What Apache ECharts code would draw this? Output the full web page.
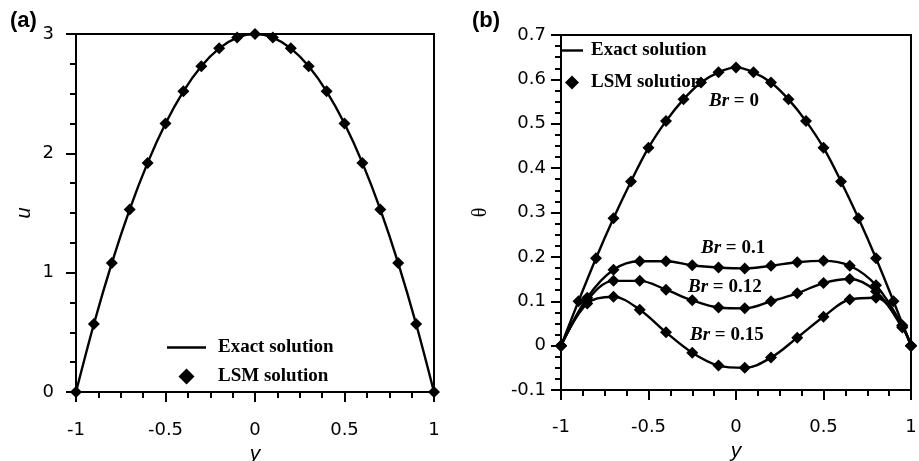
<!DOCTYPE html>
<html>
<head>
<meta charset="utf-8">
<script src="https://cdn.jsdelivr.net/npm/echarts@6/dist/echarts.min.js"></script>
<style>
  html, body { margin: 0; padding: 0; background: #fff; }
  #chart { width: 919px; height: 461px; }
</style>
</head>
<body>
<div id="chart"></div>
<script>
// Panel (a): velocity profile u(y)
const yVel = [-1, -0.9, -0.8, -0.7, -0.6, -0.5, -0.4, -0.3, -0.2, -0.1, 0, 0.1, 0.2, 0.3, 0.4, 0.5, 0.6, 0.7, 0.8, 0.9, 1];
const uVel = [0, 0.57, 1.08, 1.53, 1.92, 2.25, 2.52, 2.73, 2.88, 2.97, 3.0, 2.97, 2.88, 2.73, 2.52, 2.25, 1.92, 1.53, 1.08, 0.57, 0];

// Panel (b): temperature profiles θ(y) for several Brinkman numbers
const yBr0 = [-1, -0.9, -0.8, -0.7, -0.6, -0.5, -0.4, -0.3, -0.2, -0.1, 0, 0.1, 0.2, 0.3, 0.4, 0.5, 0.6, 0.7, 0.8, 0.9, 1];
const thetaBr0 = [0, 0.100, 0.197, 0.287, 0.370, 0.446, 0.506, 0.555, 0.593, 0.616, 0.627, 0.616, 0.593, 0.555, 0.506, 0.446, 0.370, 0.287, 0.197, 0.100, 0];

const yBr = [-1, -0.85, -0.7, -0.55, -0.4, -0.25, -0.1, 0.05, 0.2, 0.35, 0.5, 0.65, 0.8, 0.95, 1];
const thetaBr010 = [0, 0.108, 0.171, 0.190, 0.190, 0.181, 0.176, 0.174, 0.180, 0.188, 0.191, 0.180, 0.136, 0.046, 0];
const thetaBr012 = [0, 0.102, 0.146, 0.146, 0.126, 0.102, 0.086, 0.084, 0.100, 0.118, 0.141, 0.150, 0.122, 0.044, 0];
const thetaBr015 = [0, 0.095, 0.110, 0.081, 0.030, -0.016, -0.045, -0.050, -0.027, 0.018, 0.065, 0.104, 0.108, 0.041, 0];

const brLabels = ['Br = 0', 'Br = 0.1', 'Br = 0.12', 'Br = 0.15'];

const pair = (xs, ys) => xs.map((x, i) => [x, ys[i]]);

const SANS = 'DejaVu Sans';
const SERIF = '"Liberation Serif", "Times New Roman", serif';

function xAxisFor(gridIndex, nameGap, margin) {
  return {
    type: 'value', gridIndex, min: -1, max: 1, interval: 0.5,
    name: 'y', nameLocation: 'middle', nameGap,
    nameTextStyle: { fontFamily: 'Liberation Sans', fontStyle: 'italic', fontSize: 21, color: '#000' },
    axisLine: { show: true, onZero: false, lineStyle: { color: '#000', width: 2 } },
    axisTick: { show: true, inside: false, length: 10, lineStyle: { color: '#000', width: 2 } },
    minorTick: { show: true, splitNumber: 4, length: 6, lineStyle: { color: '#000', width: 2 } },
    axisLabel: { margin, fontFamily: SANS, fontSize: 18, color: '#000' },
    splitLine: { show: false }
  };
}

function yAxisFor(gridIndex, min, max, interval, name, nameStyle, nameGap, margin) {
  return {
    type: 'value', gridIndex, min, max, interval,
    name, nameLocation: 'middle', nameGap, nameRotate: 90,
    nameTextStyle: Object.assign({ fontSize: 20, color: '#000' }, nameStyle),
    axisLine: { show: true, onZero: false, lineStyle: { color: '#000', width: 2 } },
    axisTick: { show: true, inside: false, length: 10, lineStyle: { color: '#000', width: 2 } },
    minorTick: { show: true, splitNumber: 4, length: 6, lineStyle: { color: '#000', width: 2 } },
    axisLabel: { margin, fontFamily: SANS, fontSize: 18, color: '#000' },
    splitLine: { show: false }
  };
}

function exactLine(name, xi, data) {
  return {
    name, type: 'line', xAxisIndex: xi, yAxisIndex: xi,
    data, smooth: 0.35, symbol: 'none', clip: false,
    lineStyle: { color: '#000', width: 2.4 }, itemStyle: { color: '#000' },
    z: 2
  };
}

function lsmPoints(name, xi, data, size) {
  return {
    name, type: 'scatter', xAxisIndex: xi, yAxisIndex: xi,
    data, symbol: 'diamond', symbolSize: size, clip: false,
    itemStyle: { color: '#000', opacity: 1 }, z: 3
  };
}

// legend glyphs: a thin bar for the exact curve, a diamond for the LSM points
const lineIcon = (w) => 'path://M0,0L' + w + ',0L' + w + ',2.4L0,2.4Z';
const diamondIcon = 'path://M7,0L14,7L7,14L0,7Z';

const chart = echarts.init(document.getElementById('chart'), null, { renderer: 'canvas' });

const brText = (t) => t.replace('Br', '{i|Br}');
const brStyle = {
  fontFamily: SERIF, fontWeight: 'bold', fontSize: 19, fill: '#000',
  verticalAlign: 'middle',
  rich: { i: { fontFamily: SERIF, fontWeight: 'bold', fontStyle: 'italic', fontSize: 19 } }
};

chart.setOption({
  animation: false,
  backgroundColor: '#fff',
  grid: [
    { left: 76, right: 485, top: 34, bottom: 69, show: true, borderColor: '#000', borderWidth: 2,
      containLabel: false, outerBoundsMode: 'none' },
    { left: 561, right: 8, top: 35, bottom: 71, show: true, borderColor: '#000', borderWidth: 2,
      containLabel: false, outerBoundsMode: 'none' }
  ],
  xAxis: [xAxisFor(0, 51, 29), xAxisFor(1, 51, 28)],
  yAxis: [
    yAxisFor(0, 0, 3, 1, 'u', { fontFamily: 'Liberation Sans', fontStyle: 'italic' }, 42, 22),
    yAxisFor(1, -0.1, 0.7, 0.1, 'θ', { fontFamily: SERIF }, 70, 15)
  ],
  legend: [
    {
      orient: 'vertical', left: 167, top: 338, padding: 0,
      itemWidth: 39, itemHeight: 16, itemGap: 10, symbolKeepAspect: true,
      selectedMode: false,
      data: [
        { name: 'Exact solution', icon: lineIcon(39) },
        { name: 'LSM solution', icon: diamondIcon }
      ],
      textStyle: { fontFamily: SERIF, fontWeight: 'bold', fontSize: 19, color: '#000', padding: [0, 0, 0, 7] }
    },
    {
      orient: 'vertical', left: 561, top: 41, padding: 0,
      itemWidth: 22, itemHeight: 14, itemGap: 13, symbolKeepAspect: true,
      selectedMode: false,
      data: [
        { name: 'Exact solution', icon: lineIcon(22) },
        { name: 'LSM solution', icon: diamondIcon }
      ],
      textStyle: { fontFamily: SERIF, fontWeight: 'bold', fontSize: 19, color: '#000', padding: [0, 0, 0, 3] }
    }
  ],
  graphic: [
    { type: 'text', left: 10, top: 10, style: { text: '(a)', fontFamily: 'Liberation Sans', fontWeight: 'bold', fontSize: 22, fill: '#000' } },
    { type: 'text', left: 472, top: 10, style: { text: '(b)', fontFamily: 'Liberation Sans', fontWeight: 'bold', fontSize: 22, fill: '#000' } },
    { type: 'text', x: 709, y: 101, style: Object.assign({ text: brText(brLabels[0]) }, brStyle) },
    { type: 'text', x: 701, y: 248, style: Object.assign({ text: brText(brLabels[1]) }, brStyle) },
    { type: 'text', x: 688, y: 287, style: Object.assign({ text: brText(brLabels[2]) }, brStyle) },
    { type: 'text', x: 690, y: 335, style: Object.assign({ text: brText(brLabels[3]) }, brStyle) }
  ],
  series: [
    exactLine('Exact solution', 0, pair(yVel, uVel)),
    lsmPoints('LSM solution', 0, pair(yVel, uVel), 12),

    exactLine('Exact solution', 1, pair(yBr0, thetaBr0)),
    exactLine('Exact solution', 1, pair(yBr, thetaBr010)),
    exactLine('Exact solution', 1, pair(yBr, thetaBr012)),
    exactLine('Exact solution', 1, pair(yBr, thetaBr015)),
    lsmPoints('LSM solution', 1, pair(yBr0, thetaBr0), 12),
    lsmPoints('LSM solution', 1, pair(yBr, thetaBr010), 12),
    lsmPoints('LSM solution', 1, pair(yBr, thetaBr012), 12),
    lsmPoints('LSM solution', 1, pair(yBr, thetaBr015), 12)
  ]
});
</script>
</body>
</html>
